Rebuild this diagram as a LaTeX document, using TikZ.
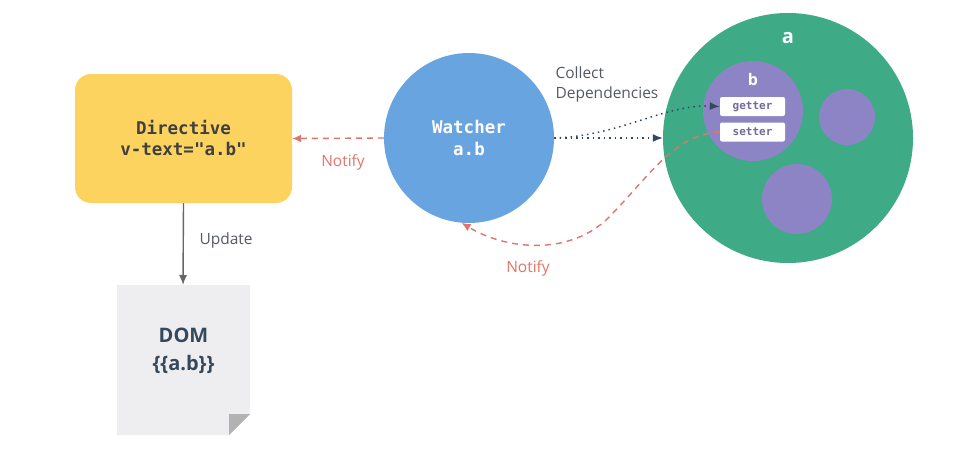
\documentclass[tikz,border=0pt]{standalone}
\usepackage{fontspec}
\setmainfont{Open Sans}
\newfontfamily\codefont{DejaVu Sans Mono}
\usetikzlibrary{arrows.meta}
\definecolor{dirYellow}{HTML}{FDD35F}
\definecolor{watchBlue}{HTML}{68A4DF}
\definecolor{objGreen}{HTML}{3EAA86}
\definecolor{propPurple}{HTML}{8D84C6}
\definecolor{notifyRed}{HTML}{E0756A}
\definecolor{navy}{HTML}{34495E}
\definecolor{txtGray}{HTML}{555A60}
\definecolor{pageGray}{HTML}{EEEEF0}
\tikzset{
  dirbox/.style={fill=dirYellow, rounded corners=16pt, minimum width=217pt, minimum height=129pt, inner sep=0pt, align=center, text=black!75, font=\codefont\bfseries\fontsize{17.5}{21}\selectfont},
  watchcircle/.style={circle, fill=watchBlue, minimum size=170pt, inner sep=0pt, align=center, text=white, font=\codefont\bfseries\fontsize{17.5}{22}\selectfont},
  objcircle/.style={circle, fill=objGreen, minimum size=250pt, inner sep=0pt},
  propcircle/.style={circle, fill=propPurple, inner sep=0pt},
  accbox/.style={fill=white, rounded corners=2pt, minimum width=65pt, minimum height=19pt, inner sep=0pt, text=propPurple!80!black, font=\codefont\bfseries\fontsize{11}{13}\selectfont},
  notifyline/.style={draw=notifyRed, line width=1.4pt, dash pattern=on 6pt off 5pt, -{Latex[length=9pt,width=8pt]}},
  collectline/.style={draw=navy, line width=1.5pt, dash pattern=on 1.5pt off 4pt, -{Latex[length=10pt,width=8pt]}},
  lbl/.style={font=\fontsize{15.5}{20}\selectfont},
}
\begin{document}
\begin{tikzpicture}[x=1pt,y=-1pt]
\useasboundingbox (0,0) rectangle (955,452);
% Directive
\node[dirbox] (dir) at (183.5,138.5) {Directive\\v-text="a.b"};
% Watcher
\node[watchcircle] (w) at (469,138) {Watcher\\a.b};
% object a
\node[objcircle] (a) at (788,138) {};
\node[text=white, font=\bfseries\fontsize{20}{24}\selectfont] (alabel) at (788,38) {a};
\node[propcircle, minimum size=100pt] (b) at (753,111) {};
\node[text=white, font=\bfseries\fontsize{16}{19}\selectfont] (blabel) at (753,79) {b};
\node[propcircle, minimum size=56pt] (c) at (847,117) {};
\node[propcircle, minimum size=70pt] (d) at (797,199) {};
\node[accbox] (get) at (752.5,106.5) {getter};
\node[accbox] (set) at (752.5,132) {setter};
% DOM page
\coordinate (p1) at (117,285);
\coordinate (p2) at (250,285);
\coordinate (p3) at (250,414);
\coordinate (p4) at (229,435);
\coordinate (p5) at (117,435);
\fill[pageGray] (p1) -- (p2) -- (p3) -- (p4) -- (p5) -- cycle;
\fill[black!30] (p3) -- (229,414) -- (p4) -- cycle;
\node[align=center, text=navy, font=\bfseries\fontsize{20}{28}\selectfont] (dom) at (183.5,351) {DOM\\\{\{a.b\}\}};
\coordinate (domtop) at (183,285);
% Update
\draw[black!60, line width=1.4pt, -{Latex[length=10pt,width=8pt]}] (dir.south) -- (domtop);
\node[lbl, text=txtGray, anchor=west] (upd) at (196,240) {Update};
% Notify watcher -> directive
\draw[notifyline] (w.west) -- (dir.east);
\node[lbl, text=notifyRed] (n1) at (343,162) {Notify};
% Collect dependencies
\draw[collectline] (w.east) -- (a.west);
\draw[collectline] (w.east) .. controls (620,136) and (665,104) .. (get.west);
\node[lbl, text=txtGray, anchor=west, align=left] (cd) at (552,84) {Collect\\Dependencies};
% Notify setter -> watcher
\coordinate (mid) at (612,214);
\draw[notifyline] (set.west) .. controls (675,134) and (650,175) .. (mid) .. controls (575,255) and (510,252) .. (w.-95);
\node[lbl, text=notifyRed] (n2) at (528,268) {Notify};
\end{tikzpicture}
\end{document}
